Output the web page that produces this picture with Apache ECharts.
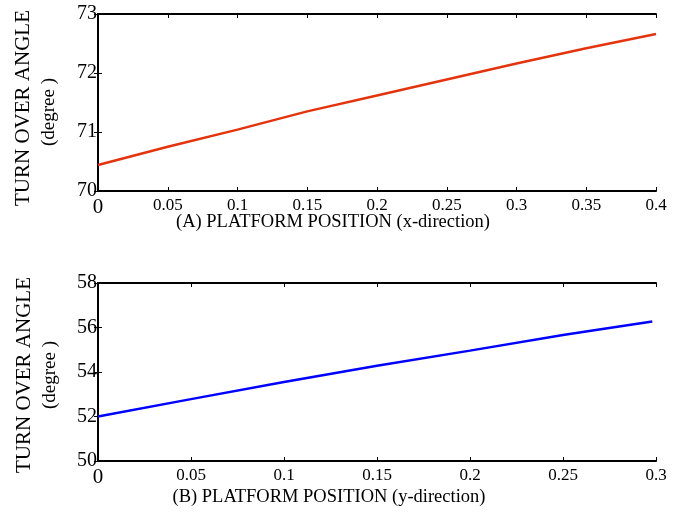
<!DOCTYPE html>
<html><head><meta charset="utf-8">
<script src="https://cdn.jsdelivr.net/npm/echarts@6/dist/echarts.min.js"></script>
<style>html,body{margin:0;padding:0;background:#fff}#c{width:690px;height:525px}</style>
</head><body><div id="c"></div>
<script>
// Panel A: platform position (x-direction) vs turn over angle
const posA = [0, 0.05, 0.1, 0.15, 0.2, 0.25, 0.3, 0.35, 0.4];
const angleA = [70.44, 70.75, 71.04, 71.35, 71.62, 71.89, 72.16, 72.42, 72.66];
const xTicksA = ['0', '0.05', '0.1', '0.15', '0.2', '0.25', '0.3', '0.35', '0.4'];
const yTicksA = ['70', '71', '72', '73'];
// Panel B: platform position (y-direction) vs turn over angle
const posB = [0, 0.05, 0.1, 0.15, 0.2, 0.25, 0.265, 0.298];
const angleB = [52.0, 52.78, 53.55, 54.28, 54.96, 55.66, 55.85, 56.27];
const xTicksB = ['0', '0.05', '0.1', '0.15', '0.2', '0.25', '0.3'];
const yTicksB = ['50', '52', '54', '56', '58'];
const yTitle = 'TURN OVER ANGLE';
const yUnit = '(degree )';
const titleA = '(A) PLATFORM POSITION (x-direction)';
const titleB = '(B) PLATFORM POSITION (y-direction)';

const FONT = '"Liberation Serif", "Times New Roman", serif';
const chart = echarts.init(document.getElementById('c'), null, {renderer: 'canvas'});

function xAx(gi, ticks, show) {
  const min = +ticks[0], max = +ticks[ticks.length - 1];
  return {
    type: 'value', gridIndex: gi, min: min, max: max, interval: 0.05,
    position: show ? 'bottom' : 'top',
    axisLine: {show: true, lineStyle: {color: '#000', width: 2}},
    axisTick: {show: true, inside: true, length: 4, lineStyle: {color: '#000', width: 1}},
    splitLine: {show: false},
    axisLabel: {
      show: show, margin: 6, color: '#000', fontFamily: FONT, fontSize: 17,
      formatter: function (v) {
        const s = String(+v.toFixed(2));
        return s === '0' ? '{z|0}' : s;
      },
      rich: {z: {fontSize: 21, fontFamily: FONT, color: '#000'}}
    }
  };
}
function yAx(gi, ticks, show) {
  const min = +ticks[0], max = +ticks[ticks.length - 1];
  return {
    type: 'value', gridIndex: gi, min: min, max: max, interval: +ticks[1] - +ticks[0],
    position: show ? 'left' : 'right',
    axisLine: {show: true, lineStyle: {color: '#000', width: 2}},
    axisTick: {show: true, inside: true, length: 4, lineStyle: {color: '#000', width: 1}},
    splitLine: {show: false},
    axisLabel: {show: show, margin: 1, color: '#000', fontFamily: FONT, fontSize: 20}
  };
}

const option = {
  backgroundColor: '#fff',
  animation: false,
  grid: [
    {left: 98, top: 14, width: 558, height: 177},
    {left: 98, top: 283, width: 558, height: 178}
  ],
  xAxis: [xAx(0, xTicksA, true), xAx(0, xTicksA, false), xAx(1, xTicksB, true), xAx(1, xTicksB, false)],
  yAxis: [yAx(0, yTicksA, true), yAx(0, yTicksA, false), yAx(1, yTicksB, true), yAx(1, yTicksB, false)],
  series: [
    {type: 'line', xAxisIndex: 0, yAxisIndex: 0, showSymbol: false, symbol: 'none',
     lineStyle: {color: '#e4340e', width: 2.5}, data: posA.map((x, i) => [x, angleA[i]])},
    {type: 'line', xAxisIndex: 2, yAxisIndex: 2, showSymbol: false, symbol: 'none',
     lineStyle: {color: '#0000ff', width: 2.5}, data: posB.map((x, i) => [x, angleB[i]])}
  ],
  graphic: [
    {type: 'text', x: 333, y: 222, style: {text: titleA, font: '18.5px ' + FONT, fill: '#000', align: 'center', verticalAlign: 'middle'}},
    {type: 'text', x: 329, y: 497, style: {text: titleB, font: '18.5px ' + FONT, fill: '#000', align: 'center', verticalAlign: 'middle'}},
    {type: 'text', x: 23, y: 108, rotation: Math.PI / 2, style: {text: yTitle, font: '21px ' + FONT, fill: '#000', align: 'center', verticalAlign: 'middle'}},
    {type: 'text', x: 49, y: 112, rotation: Math.PI / 2, style: {text: yUnit, font: '19px ' + FONT, fill: '#000', align: 'center', verticalAlign: 'middle'}},
    {type: 'text', x: 24, y: 375, rotation: Math.PI / 2, style: {text: yTitle, font: '21px ' + FONT, fill: '#000', align: 'center', verticalAlign: 'middle'}},
    {type: 'text', x: 50, y: 375, rotation: Math.PI / 2, style: {text: yUnit, font: '19px ' + FONT, fill: '#000', align: 'center', verticalAlign: 'middle'}}
  ]
};
chart.setOption(option);
</script></body></html>
